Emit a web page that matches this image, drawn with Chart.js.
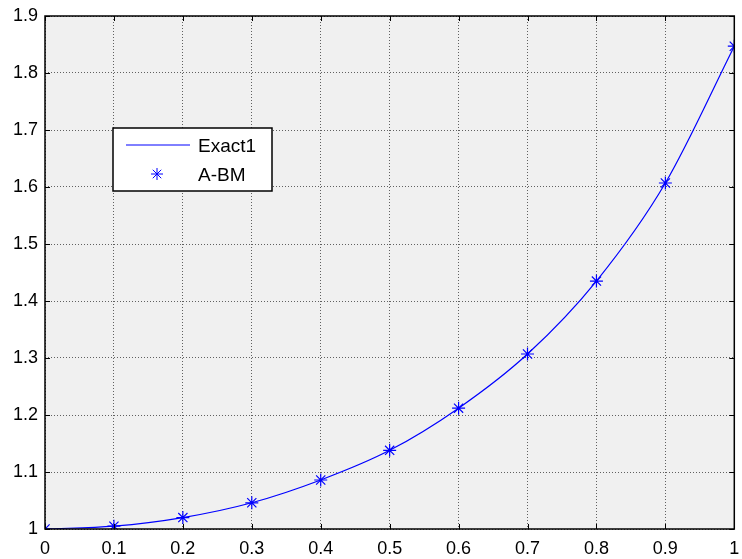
<!DOCTYPE html>
<html>
<head>
<meta charset="utf-8">
<script src="https://cdn.jsdelivr.net/npm/chart.js@4"></script>
<style>
  html, body { margin: 0; padding: 0; background: #ffffff; }
  #wrap { width: 742px; height: 559px; }
</style>
</head>
<body>
<div id="wrap"><canvas id="chart" width="742" height="559"></canvas></div>
<script>
// x positions and values
const xValues = [0, 0.1, 0.2, 0.3, 0.4, 0.5, 0.6, 0.7, 0.8, 0.9, 1];
const exactValues = [1, 1.005, 1.02, 1.046, 1.086, 1.138, 1.212, 1.307, 1.435, 1.607, 1.847];
const abmValues = [1, 1.005, 1.02, 1.046, 1.086, 1.138, 1.212, 1.307, 1.435, 1.607, 1.847];

// tick values and labels
const xTicks = [0, 0.1, 0.2, 0.3, 0.4, 0.5, 0.6, 0.7, 0.8, 0.9, 1];
const xTickLabels = ['0', '0.1', '0.2', '0.3', '0.4', '0.5', '0.6', '0.7', '0.8', '0.9', '1'];
const yTicks = [1, 1.1, 1.2, 1.3, 1.4, 1.5, 1.6, 1.7, 1.8, 1.9];
const yTickLabels = ['1', '1.1', '1.2', '1.3', '1.4', '1.5', '1.6', '1.7', '1.8', '1.9'];

const seriesLabels = ['Exact1', 'A-BM'];
const blue = '#0000ff';
const fontFamily = '"Liberation Sans", Arial, sans-serif';

// grey plot area behind everything
const plotBackground = {
    id: 'plotBackground',
    beforeDraw(chart) {
        const { ctx, chartArea: a } = chart;
        ctx.save();
        ctx.fillStyle = '#f0f0f0';
        ctx.fillRect(a.left, a.top, a.right - a.left, a.bottom - a.top);
        ctx.restore();
    }
};

// box round the axes and small inward tick marks, like matlab
const axesBox = {
    id: 'axesBox',
    afterDatasetsDraw(chart) {
        const { ctx, chartArea: a, scales } = chart;
        ctx.save();
        ctx.strokeStyle = '#000';
        ctx.lineWidth = 1;
        scales.x.ticks.forEach(t => {
            const px = Math.round(scales.x.getPixelForValue(t.value)) + 0.5;
            ctx.beginPath();
            ctx.moveTo(px, a.bottom); ctx.lineTo(px, a.bottom - 5);
            ctx.moveTo(px, a.top); ctx.lineTo(px, a.top + 5);
            ctx.stroke();
        });
        scales.y.ticks.forEach(t => {
            const py = Math.round(scales.y.getPixelForValue(t.value)) + 0.5;
            ctx.beginPath();
            ctx.moveTo(a.left, py); ctx.lineTo(a.left + 5, py);
            ctx.moveTo(a.right, py); ctx.lineTo(a.right - 5, py);
            ctx.stroke();
        });
        ctx.lineWidth = 1.5;
        ctx.strokeRect(a.left, a.top, a.right - a.left, a.bottom - a.top);
        ctx.restore();
    }
};

// legend box inside the axes, top left
const boxLegend = {
    id: 'boxLegend',
    afterDraw(chart) {
        const { ctx, chartArea: a } = chart;
        const left = a.left + 68, top = a.top + 112, w = 159, h = 63;
        ctx.save();
        ctx.fillStyle = '#ffffff';
        ctx.fillRect(left, top, w, h);
        ctx.strokeStyle = '#000';
        ctx.lineWidth = 1.5;
        ctx.strokeRect(left, top, w, h);

        const ds = chart.data.datasets;
        // line sample
        ctx.strokeStyle = ds[0].borderColor;
        ctx.lineWidth = 1;
        ctx.beginPath();
        ctx.moveTo(left + 13, top + 17);
        ctx.lineTo(left + 77, top + 17);
        ctx.stroke();
        // marker sample
        ctx.strokeStyle = ds[1].borderColor;
        Chart.helpers.drawPoint(ctx, {
            pointStyle: 'star', radius: 6, borderWidth: 1.2, rotation: 0
        }, left + 44, top + 46);
        ctx.fillStyle = '#000';
        ctx.font = '19px ' + fontFamily;
        ctx.textBaseline = 'middle';
        ctx.fillText(ds[0].label, left + 85, top + 19);
        ctx.fillText(ds[1].label, left + 85, top + 48);
        ctx.restore();
    }
};

const ctx = document.getElementById('chart').getContext('2d');
const chart = new Chart(ctx, {
    type: 'line',
    data: {
        datasets: [{
            label: seriesLabels[0],
            data: xValues.map((x, i) => ({ x: x, y: exactValues[i] })),
            borderColor: blue,
            borderWidth: 1.2,
            pointRadius: 0,
            cubicInterpolationMode: 'monotone',
            fill: false
        }, {
            label: seriesLabels[1],
            data: xValues.map((x, i) => ({ x: x, y: abmValues[i] })),
            borderColor: blue,
            backgroundColor: blue,
            showLine: false,
            pointStyle: 'star',
            pointRadius: 6.5,
            pointBorderWidth: 1.2
        }]
    },
    options: {
        responsive: false,
        animation: false,
        layout: { padding: { top: 16, right: 4, left: 0, bottom: 0 } },
        plugins: {
            legend: { display: false },
            tooltip: { enabled: false }
        },
        scales: {
            x: {
                type: 'linear',
                min: 0,
                max: 1,
                afterBuildTicks: s => { s.ticks = xTicks.map(v => ({ value: v })); },
                afterFit: s => { s.height = 30; s.paddingLeft = 0; s.paddingRight = 0; },
                grid: { color: 'rgba(0,0,0,0.6)', lineWidth: 1, drawTicks: false },
                border: { display: false, dash: [1, 2] },
                ticks: {
                    color: '#000',
                    padding: 9,
                    maxRotation: 0,
                    font: { family: fontFamily, size: 18 },
                    callback: (v, i) => xTickLabels[i]
                }
            },
            y: {
                type: 'linear',
                min: 1,
                max: 1.9,
                afterBuildTicks: s => { s.ticks = yTicks.map(v => ({ value: v })); },
                afterFit: s => { s.width = 45; s.paddingTop = 0; s.paddingBottom = 0; },
                grid: { color: 'rgba(0,0,0,0.6)', lineWidth: 1, drawTicks: false },
                border: { display: false, dash: [1, 2] },
                ticks: {
                    color: '#000',
                    padding: 7,
                    font: { family: fontFamily, size: 18 },
                    callback: (v, i) => yTickLabels[i]
                }
            }
        }
    },
    plugins: [plotBackground, axesBox, boxLegend]
});
</script>
</body>
</html>
